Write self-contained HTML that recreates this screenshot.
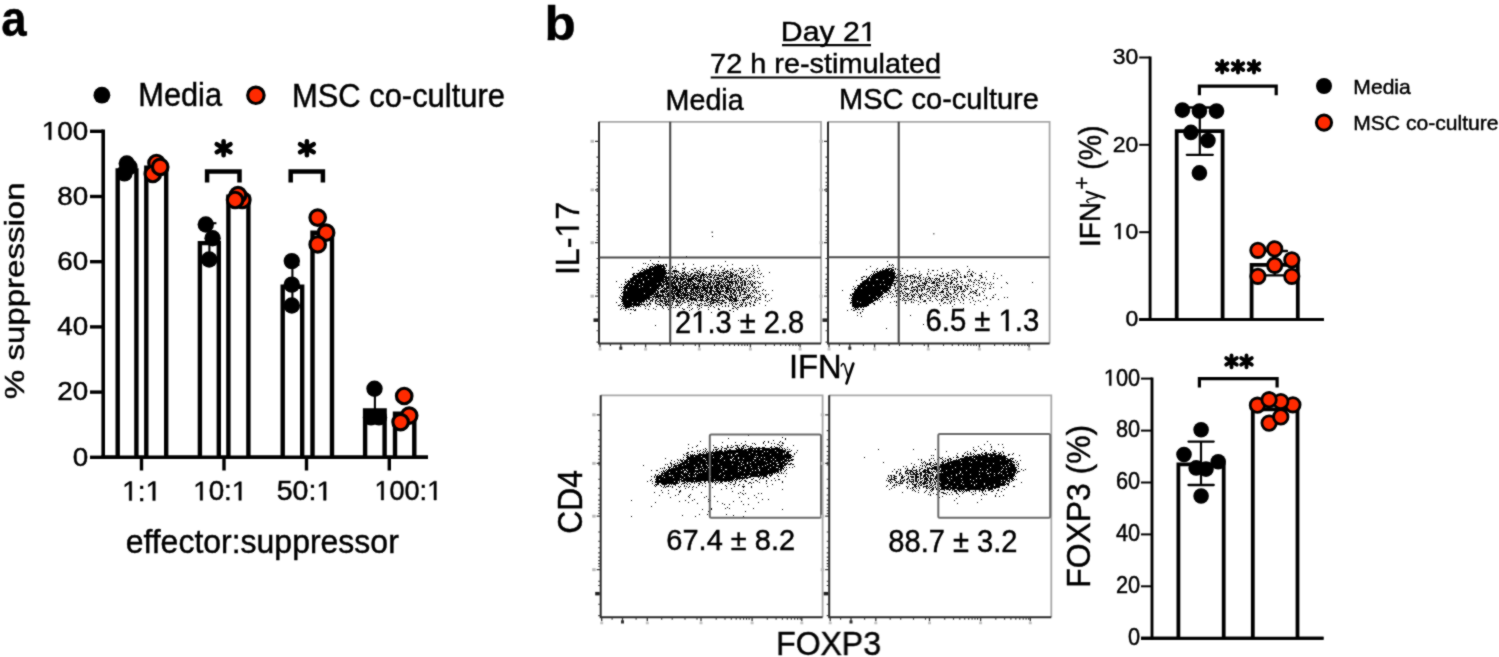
<!DOCTYPE html>
<html><head><meta charset="utf-8"><title>Figure</title><style>
html,body{margin:0;padding:0;background:#fff;overflow:hidden;}
svg{display:block;will-change:transform;}
text{font-family:"Liberation Sans",sans-serif;fill:#000;stroke:#000;stroke-width:0.45px;}
.o{fill-opacity:0;stroke-opacity:0;}
</style></head><body>
<svg width="1499" height="657" viewBox="0 0 1499 657">
<defs><filter id="soft" x="0" y="0" width="1499" height="657" filterUnits="userSpaceOnUse" color-interpolation-filters="sRGB"><feConvolveMatrix order="3" kernelMatrix="1 2 1 2 12 2 1 2 1" divisor="24" edgeMode="duplicate"/></filter></defs>
<rect width="1499" height="657" fill="#fff"/>
<g filter="url(#soft)">
<rect width="1499" height="657" fill="#fff"/>
<text transform="translate(1.33,35.70) scale(0.9118,1)" font-size="50.05" font-weight="bold">a</text>
<circle cx="101.9" cy="95.2" r="8.40" fill="#000"/>
<text transform="translate(138.26,106.20) scale(0.9287,1)" font-size="33.12">Media</text>
<circle cx="255.9" cy="95.3" r="8.20" fill="#ff2a00" stroke="#000" stroke-width="3.2"/>
<text transform="translate(291.95,106.50) scale(0.9459,1)" font-size="32.69">MSC co-culture</text>
<line x1="103.2" y1="129.6" x2="103.2" y2="459.0" stroke="#000" stroke-width="3.6" stroke-linecap="butt"/>
<line x1="101.4" y1="457.3" x2="428.0" y2="457.3" stroke="#000" stroke-width="3.6" stroke-linecap="butt"/>
<line x1="90.0" y1="457.3" x2="103.2" y2="457.3" stroke="#000" stroke-width="3.4" stroke-linecap="butt"/>
<text transform="translate(72.70,465.69) scale(1.0873,1)" font-size="25.58">0</text>
<line x1="90.0" y1="392.1" x2="103.2" y2="392.1" stroke="#000" stroke-width="3.4" stroke-linecap="butt"/>
<text transform="translate(57.27,400.49) scale(1.0873,1)" font-size="25.58">20</text>
<line x1="90.0" y1="326.9" x2="103.2" y2="326.9" stroke="#000" stroke-width="3.4" stroke-linecap="butt"/>
<text transform="translate(57.27,335.29) scale(1.0873,1)" font-size="25.58">40</text>
<line x1="90.0" y1="261.7" x2="103.2" y2="261.7" stroke="#000" stroke-width="3.4" stroke-linecap="butt"/>
<text transform="translate(57.27,270.09) scale(1.0873,1)" font-size="25.58">60</text>
<line x1="90.0" y1="196.5" x2="103.2" y2="196.5" stroke="#000" stroke-width="3.4" stroke-linecap="butt"/>
<text transform="translate(57.27,204.89) scale(1.0873,1)" font-size="25.58">80</text>
<line x1="90.0" y1="131.3" x2="103.2" y2="131.3" stroke="#000" stroke-width="3.4" stroke-linecap="butt"/>
<text transform="translate(41.76,139.69) scale(1.0873,1)" font-size="25.58"><tspan class="o">1</tspan>00</text>
<line x1="141.5" y1="457.3" x2="141.5" y2="470.5" stroke="#000" stroke-width="3.4" stroke-linecap="butt"/>
<line x1="224.0" y1="457.3" x2="224.0" y2="470.5" stroke="#000" stroke-width="3.4" stroke-linecap="butt"/>
<line x1="306.5" y1="457.3" x2="306.5" y2="470.5" stroke="#000" stroke-width="3.4" stroke-linecap="butt"/>
<line x1="389.3" y1="457.3" x2="389.3" y2="470.5" stroke="#000" stroke-width="3.4" stroke-linecap="butt"/>
<text transform="translate(122.12,500.60) scale(1.0165,1)" font-size="27.78"><tspan class="o">1</tspan>:<tspan class="o">1</tspan></text>
<text transform="translate(193.16,500.33) scale(1.0308,1)" font-size="27.00"><tspan class="o">1</tspan>0:<tspan class="o">1</tspan></text>
<text transform="translate(276.76,500.33) scale(1.0565,1)" font-size="27.00">50:<tspan class="o">1</tspan></text>
<text transform="translate(374.43,500.03) scale(0.9880,1)" font-size="27.42"><tspan class="o">1</tspan>00:<tspan class="o">1</tspan></text>
<text transform="translate(125.64,553.10) scale(0.9796,1)" font-size="32.66">effector:suppressor</text>
<text transform="translate(23.53,399.16) rotate(-90) scale(1.2085,1)" font-size="27.35">% suppression</text>
<path d="M117.7 457.3V170.4H136.4V457.3" fill="#fff" stroke="#000" stroke-width="4.4" stroke-linejoin="miter"/>
<circle cx="126.8" cy="163.5" r="8.20" fill="#000"/>
<circle cx="129.5" cy="167.0" r="8.20" fill="#000"/>
<circle cx="124.4" cy="173.4" r="8.20" fill="#000"/>
<path d="M146.3 457.3V167.8H166.2V457.3" fill="#fff" stroke="#000" stroke-width="4.4" stroke-linejoin="miter"/>
<circle cx="156.5" cy="163.0" r="7.75" fill="#ff2a00" stroke="#000" stroke-width="3.2"/>
<circle cx="152.8" cy="174.0" r="7.75" fill="#ff2a00" stroke="#000" stroke-width="3.2"/>
<circle cx="160.2" cy="166.9" r="7.75" fill="#ff2a00" stroke="#000" stroke-width="3.2"/>
<path d="M199.9 457.3V243.1H218.8V457.3" fill="#fff" stroke="#000" stroke-width="4.4" stroke-linejoin="miter"/>
<line x1="209.4" y1="223.2" x2="209.4" y2="258.4" stroke="#000" stroke-width="2.1" stroke-linecap="butt"/>
<line x1="202.4" y1="223.2" x2="216.4" y2="223.2" stroke="#000" stroke-width="2.1" stroke-linecap="butt"/>
<line x1="202.4" y1="258.4" x2="216.4" y2="258.4" stroke="#000" stroke-width="2.1" stroke-linecap="butt"/>
<circle cx="205.8" cy="224.5" r="8.20" fill="#000"/>
<circle cx="212.6" cy="238.2" r="8.20" fill="#000"/>
<circle cx="209.2" cy="259.5" r="8.20" fill="#000"/>
<path d="M228.4 457.3V196.8H248.4V457.3" fill="#fff" stroke="#000" stroke-width="4.4" stroke-linejoin="miter"/>
<circle cx="242.3" cy="200.0" r="7.75" fill="#ff2a00" stroke="#000" stroke-width="3.2"/>
<circle cx="238.0" cy="195.2" r="7.75" fill="#ff2a00" stroke="#000" stroke-width="3.2"/>
<circle cx="235.1" cy="200.0" r="7.75" fill="#ff2a00" stroke="#000" stroke-width="3.2"/>
<path d="M282.7 457.3V286.8H302.2V457.3" fill="#fff" stroke="#000" stroke-width="4.4" stroke-linejoin="miter"/>
<line x1="292.4" y1="265.0" x2="292.4" y2="307.3" stroke="#000" stroke-width="2.1" stroke-linecap="butt"/>
<line x1="285.4" y1="265.0" x2="299.4" y2="265.0" stroke="#000" stroke-width="2.1" stroke-linecap="butt"/>
<line x1="285.4" y1="307.3" x2="299.4" y2="307.3" stroke="#000" stroke-width="2.1" stroke-linecap="butt"/>
<circle cx="291.8" cy="261.1" r="8.20" fill="#000"/>
<circle cx="291.8" cy="284.6" r="8.20" fill="#000"/>
<circle cx="291.8" cy="305.5" r="8.20" fill="#000"/>
<path d="M312.5 457.3V232.7H332.0V457.3" fill="#fff" stroke="#000" stroke-width="4.4" stroke-linejoin="miter"/>
<circle cx="326.1" cy="232.7" r="7.75" fill="#ff2a00" stroke="#000" stroke-width="3.2"/>
<circle cx="317.7" cy="217.6" r="7.75" fill="#ff2a00" stroke="#000" stroke-width="3.2"/>
<circle cx="317.7" cy="244.4" r="7.75" fill="#ff2a00" stroke="#000" stroke-width="3.2"/>
<path d="M365.1 457.3V410.4H384.6V457.3" fill="#fff" stroke="#000" stroke-width="4.4" stroke-linejoin="miter"/>
<line x1="374.9" y1="388.8" x2="374.9" y2="418.2" stroke="#000" stroke-width="2.1" stroke-linecap="butt"/>
<line x1="368.4" y1="388.8" x2="381.4" y2="388.8" stroke="#000" stroke-width="2.1" stroke-linecap="butt"/>
<line x1="368.4" y1="418.2" x2="381.4" y2="418.2" stroke="#000" stroke-width="2.1" stroke-linecap="butt"/>
<circle cx="374.5" cy="388.8" r="8.20" fill="#000"/>
<circle cx="371.0" cy="417.4" r="8.20" fill="#000"/>
<circle cx="379.0" cy="417.4" r="8.20" fill="#000"/>
<path d="M395.0 457.3V413.6H414.3V457.3" fill="#fff" stroke="#000" stroke-width="4.4" stroke-linejoin="miter"/>
<circle cx="409.2" cy="415.6" r="7.75" fill="#ff2a00" stroke="#000" stroke-width="3.2"/>
<circle cx="404.2" cy="396.0" r="7.75" fill="#ff2a00" stroke="#000" stroke-width="3.2"/>
<circle cx="400.6" cy="422.1" r="7.75" fill="#ff2a00" stroke="#000" stroke-width="3.2"/>
<line x1="101.4" y1="457.3" x2="428.0" y2="457.3" stroke="#000" stroke-width="3.6" stroke-linecap="butt"/>
<path d="M207.1 182.6V171.6H239.5V182.6" fill="none" stroke="#000" stroke-width="4.5"/>
<path d="M223.60 141.20L223.60 155.20M216.76 144.25L230.44 152.15M216.76 152.15L230.44 144.25" stroke="#000" stroke-width="4.6" stroke-linecap="round" fill="none"/>
<path d="M290.7 182.6V171.6H322.9V182.6" fill="none" stroke="#000" stroke-width="4.5"/>
<path d="M306.90 141.20L306.90 155.20M300.06 144.25L313.74 152.15M300.06 152.15L313.74 144.25" stroke="#000" stroke-width="4.6" stroke-linecap="round" fill="none"/>
<text transform="translate(544.38,39.81) scale(1.0518,1)" font-size="48.57" font-weight="bold">b</text>
<text transform="translate(780.80,41.00) scale(1.1072,1)" font-size="27.31">Day 2<tspan class="o">1</tspan></text>
<line x1="782.0" y1="45.2" x2="871.0" y2="45.2" stroke="#000" stroke-width="2.2" stroke-linecap="butt"/>
<text transform="translate(710.08,73.00) scale(1.0311,1)" font-size="28.02">72 h re-stimulated</text>
<line x1="710.7" y1="77.5" x2="940.4" y2="77.5" stroke="#000" stroke-width="2.2" stroke-linecap="butt"/>
<text transform="translate(665.53,109.80) scale(0.9615,1)" font-size="29.86">Media</text>
<text transform="translate(839.01,109.40) scale(1.0100,1)" font-size="28.73">MSC co-culture</text>
<path d="M712 236h1M659 256h1M686 256h1M745 257h1M650 260h1M658 261h1M725 261h1M643 263h1M645 263h1M652 263h1M683 263h1M648 264h1M653 264h2M656 264h3M660 264h1M663 264h1M665 264h2M678 264h1M683 264h1M693 264h1M732 264h1M655 265h1M657 265h7M666 265h1M713 265h1M718 265h1M727 265h1M752 265h1M757 265h1M647 266h1M650 266h3M654 266h11M666 266h1M672 266h1M675 266h1M711 266h1M713 266h1M721 266h1M632 267h1M649 267h2M652 267h10M663 267h2M672 267h1M685 267h1M700 267h1M706 267h1M720 267h1M642 268h1M646 268h1M649 268h17M669 268h1M671 268h1M675 268h1M682 268h3M694 268h2M705 268h1M724 268h1M732 268h1M739 268h2M746 268h1M749 268h1M753 268h1M758 268h1M643 269h2M646 269h19M684 269h1M691 269h2M700 269h1M703 269h1M711 269h1M724 269h1M730 269h1M732 269h1M741 269h2M753 269h1M638 270h1M641 270h2M644 270h23M668 270h2M673 270h4M682 270h1M693 270h1M696 270h1M698 270h1M711 270h3M715 270h1M718 270h1M722 270h2M727 270h1M734 270h1M736 270h1M738 270h1M747 270h1M754 270h1M759 270h1M640 271h1M643 271h9M653 271h13M669 271h1M672 271h7M684 271h1M689 271h1M697 271h1M699 271h2M703 271h1M711 271h1M725 271h4M730 271h1M735 271h1M741 271h3M746 271h1M751 271h1M753 271h1M757 271h1M639 272h28M668 272h1M670 272h1M674 272h1M676 272h1M678 272h1M682 272h3M687 272h1M694 272h4M700 272h1M702 272h1M706 272h1M711 272h1M714 272h2M719 272h1M721 272h4M726 272h1M730 272h2M733 272h1M740 272h1M742 272h2M745 272h1M754 272h1M769 272h1M633 273h2M636 273h37M674 273h1M679 273h2M682 273h2M685 273h1M688 273h1M691 273h2M697 273h3M702 273h2M709 273h2M716 273h1M719 273h1M723 273h3M727 273h2M730 273h3M737 273h1M740 273h1M750 273h1M753 273h1M758 273h1M761 273h1M632 274h2M637 274h29M672 274h1M675 274h1M677 274h1M681 274h1M684 274h3M690 274h2M694 274h2M699 274h1M701 274h6M708 274h4M713 274h1M715 274h1M718 274h1M721 274h1M723 274h1M729 274h2M732 274h2M735 274h2M749 274h1M751 274h1M760 274h1M633 275h13M647 275h18M666 275h1M674 275h3M678 275h1M681 275h3M685 275h4M690 275h1M693 275h6M700 275h5M706 275h1M709 275h1M712 275h1M714 275h7M722 275h2M726 275h1M728 275h1M730 275h3M734 275h3M738 275h1M742 275h1M744 275h1M746 275h1M748 275h1M753 275h1M633 276h19M653 276h14M668 276h5M674 276h2M677 276h1M679 276h2M682 276h3M686 276h1M688 276h3M692 276h3M697 276h2M700 276h2M703 276h1M705 276h1M707 276h2M710 276h2M714 276h1M719 276h3M723 276h1M725 276h3M730 276h3M734 276h1M736 276h1M738 276h2M741 276h1M747 276h1M749 276h1M752 276h1M754 276h1M763 276h1M632 277h46M680 277h2M683 277h1M686 277h1M688 277h1M691 277h3M695 277h2M698 277h4M703 277h2M706 277h2M709 277h3M713 277h2M716 277h3M724 277h1M726 277h7M736 277h1M739 277h2M743 277h1M748 277h3M757 277h1M759 277h1M630 278h7M638 278h3M642 278h22M665 278h6M673 278h2M676 278h11M688 278h10M700 278h2M703 278h1M707 278h1M713 278h1M717 278h6M724 278h3M729 278h1M734 278h2M738 278h1M740 278h3M745 278h2M754 278h1M625 279h1M630 279h18M649 279h18M668 279h3M672 279h2M675 279h4M680 279h5M686 279h8M695 279h2M698 279h3M703 279h2M708 279h3M714 279h5M722 279h6M729 279h1M731 279h2M734 279h1M737 279h1M740 279h2M746 279h1M628 280h1M630 280h34M665 280h8M674 280h1M676 280h2M680 280h3M685 280h1M687 280h5M694 280h1M696 280h10M710 280h2M713 280h1M715 280h1M719 280h1M721 280h2M725 280h1M727 280h2M731 280h1M735 280h1M737 280h2M740 280h2M743 280h2M748 280h1M751 280h1M616 281h1M625 281h1M627 281h7M635 281h8M644 281h24M670 281h2M673 281h2M676 281h3M680 281h1M683 281h3M687 281h6M695 281h1M697 281h5M703 281h6M710 281h2M713 281h1M715 281h7M724 281h1M727 281h10M738 281h1M742 281h1M744 281h2M747 281h1M749 281h2M752 281h1M755 281h1M757 281h1M625 282h2M628 282h15M644 282h17M662 282h3M666 282h11M678 282h3M682 282h5M688 282h1M690 282h1M692 282h2M699 282h2M702 282h1M705 282h1M708 282h3M712 282h1M714 282h1M716 282h4M721 282h3M725 282h8M735 282h2M738 282h1M740 282h3M744 282h2M750 282h1M753 282h2M758 282h1M762 282h1M627 283h3M631 283h26M658 283h4M663 283h1M665 283h11M678 283h3M682 283h2M686 283h3M690 283h2M693 283h3M697 283h3M702 283h3M706 283h1M708 283h3M712 283h3M716 283h1M718 283h3M723 283h1M725 283h1M729 283h1M731 283h3M735 283h3M740 283h1M742 283h1M744 283h2M748 283h1M750 283h1M752 283h1M754 283h2M759 283h2M621 284h1M624 284h1M626 284h7M634 284h5M640 284h22M663 284h10M674 284h2M678 284h1M680 284h3M684 284h7M692 284h5M698 284h1M700 284h1M702 284h2M705 284h1M707 284h4M713 284h1M716 284h4M721 284h1M723 284h2M726 284h2M729 284h2M732 284h1M735 284h1M737 284h1M741 284h2M744 284h2M747 284h1M749 284h1M751 284h2M625 285h39M666 285h1M668 285h2M671 285h3M675 285h2M678 285h3M682 285h5M688 285h2M691 285h4M697 285h2M701 285h1M703 285h6M710 285h1M712 285h1M714 285h5M720 285h3M724 285h2M727 285h4M732 285h1M735 285h1M737 285h1M739 285h1M741 285h2M744 285h2M751 285h2M624 286h4M629 286h13M643 286h17M661 286h3M666 286h12M679 286h5M686 286h6M693 286h8M702 286h3M707 286h2M710 286h3M714 286h3M718 286h1M720 286h6M727 286h2M730 286h2M735 286h1M738 286h2M741 286h1M747 286h1M752 286h1M754 286h1M758 286h1M760 286h1M619 287h1M621 287h1M623 287h16M640 287h10M651 287h8M661 287h2M664 287h1M666 287h5M672 287h6M679 287h4M684 287h4M689 287h1M691 287h1M693 287h6M700 287h13M714 287h5M720 287h3M725 287h4M730 287h1M733 287h2M736 287h6M743 287h1M746 287h1M748 287h1M750 287h1M753 287h2M756 287h1M758 287h1M624 288h37M663 288h15M679 288h2M682 288h19M702 288h6M709 288h4M714 288h1M716 288h4M721 288h3M725 288h8M736 288h1M738 288h1M741 288h1M743 288h2M746 288h1M749 288h1M755 288h1M623 289h3M627 289h30M658 289h1M662 289h1M664 289h3M672 289h2M675 289h8M684 289h3M691 289h3M695 289h3M699 289h1M701 289h1M703 289h3M707 289h1M710 289h2M715 289h3M719 289h1M721 289h1M726 289h4M732 289h3M736 289h1M738 289h2M741 289h3M745 289h1M748 289h1M754 289h1M763 289h1M621 290h1M624 290h2M627 290h31M660 290h5M666 290h4M671 290h2M674 290h7M682 290h1M684 290h4M690 290h4M695 290h1M697 290h3M701 290h7M709 290h5M716 290h3M720 290h1M722 290h2M725 290h3M729 290h3M733 290h3M737 290h3M741 290h2M746 290h1M748 290h2M752 290h2M755 290h2M762 290h1M765 290h1M772 290h1M623 291h33M657 291h2M660 291h8M670 291h6M677 291h5M683 291h1M685 291h2M690 291h2M693 291h1M695 291h3M699 291h1M701 291h2M705 291h3M709 291h3M713 291h11M725 291h4M730 291h2M734 291h2M739 291h1M741 291h1M743 291h3M748 291h1M753 291h1M756 291h1M758 291h2M622 292h34M657 292h2M660 292h5M666 292h1M668 292h5M674 292h1M676 292h5M682 292h2M685 292h5M691 292h4M696 292h5M704 292h1M706 292h6M714 292h1M717 292h4M724 292h1M726 292h3M730 292h2M733 292h2M736 292h1M739 292h2M744 292h3M751 292h1M754 292h1M756 292h1M621 293h1M623 293h21M645 293h9M655 293h4M662 293h1M665 293h1M667 293h12M680 293h6M687 293h1M689 293h3M693 293h3M697 293h1M700 293h4M705 293h2M708 293h1M710 293h2M714 293h3M718 293h3M725 293h2M730 293h1M732 293h2M736 293h1M739 293h2M744 293h1M750 293h1M752 293h1M757 293h1M762 293h1M623 294h35M659 294h2M662 294h2M665 294h6M672 294h2M675 294h5M681 294h1M683 294h6M690 294h4M695 294h2M698 294h3M702 294h1M704 294h3M709 294h9M719 294h5M727 294h2M730 294h2M733 294h3M740 294h1M742 294h4M747 294h1M749 294h1M759 294h1M763 294h1M766 294h1M768 294h1M620 295h1M623 295h29M654 295h1M656 295h8M667 295h3M671 295h1M673 295h2M676 295h15M693 295h5M699 295h5M706 295h2M709 295h1M712 295h3M716 295h1M718 295h2M723 295h3M729 295h1M731 295h1M734 295h2M737 295h1M739 295h2M747 295h4M754 295h1M760 295h1M765 295h1M621 296h29M652 296h23M676 296h4M681 296h1M684 296h2M687 296h1M690 296h3M696 296h1M698 296h1M700 296h4M705 296h1M707 296h2M712 296h1M714 296h1M716 296h2M719 296h1M721 296h2M724 296h3M729 296h4M735 296h1M737 296h1M739 296h1M746 296h1M748 296h1M750 296h1M752 296h2M765 296h1M619 297h1M622 297h30M653 297h1M655 297h4M660 297h1M663 297h1M665 297h1M667 297h1M669 297h2M672 297h3M678 297h7M686 297h3M690 297h2M693 297h1M695 297h1M697 297h7M706 297h2M709 297h1M711 297h3M715 297h2M719 297h2M722 297h1M724 297h4M729 297h4M735 297h2M741 297h1M743 297h7M751 297h1M754 297h1M756 297h1M759 297h2M765 297h1M620 298h1M622 298h28M652 298h1M655 298h1M658 298h3M662 298h4M668 298h8M677 298h2M680 298h4M685 298h3M689 298h7M697 298h1M700 298h1M702 298h1M705 298h1M707 298h2M710 298h3M716 298h4M725 298h1M727 298h2M730 298h1M732 298h5M738 298h1M746 298h1M748 298h1M751 298h1M756 298h1M758 298h1M771 298h1M621 299h6M628 299h19M648 299h2M652 299h2M656 299h2M660 299h1M664 299h3M668 299h1M673 299h2M676 299h1M681 299h1M683 299h1M686 299h1M689 299h8M700 299h3M706 299h4M711 299h5M718 299h1M722 299h1M726 299h1M728 299h4M733 299h4M742 299h4M747 299h1M755 299h1M759 299h2M622 300h23M646 300h1M650 300h3M655 300h2M659 300h4M664 300h1M666 300h1M668 300h2M671 300h3M676 300h2M679 300h2M683 300h2M687 300h2M691 300h2M694 300h3M698 300h6M705 300h3M711 300h14M729 300h4M734 300h5M740 300h1M742 300h3M750 300h1M755 300h1M757 300h1M765 300h1M769 300h1M621 301h24M646 301h2M650 301h1M652 301h1M655 301h1M657 301h2M660 301h3M664 301h7M673 301h1M675 301h4M680 301h1M682 301h2M687 301h3M696 301h1M701 301h1M704 301h1M706 301h1M709 301h3M713 301h1M716 301h2M722 301h2M729 301h1M731 301h1M733 301h4M743 301h1M751 301h1M754 301h1M767 301h1M616 302h1M623 302h9M633 302h4M638 302h4M643 302h1M649 302h1M655 302h1M659 302h1M662 302h1M665 302h2M668 302h1M672 302h1M676 302h1M678 302h3M684 302h2M691 302h1M693 302h1M697 302h1M707 302h2M710 302h1M712 302h4M717 302h3M721 302h1M724 302h3M732 302h1M739 302h1M741 302h1M743 302h1M745 302h1M747 302h1M749 302h1M754 302h2M622 303h18M641 303h1M646 303h1M649 303h2M655 303h2M660 303h1M663 303h3M667 303h1M672 303h1M677 303h1M679 303h1M682 303h1M688 303h1M691 303h1M693 303h1M700 303h2M704 303h2M710 303h4M720 303h3M725 303h1M729 303h1M731 303h1M733 303h1M735 303h1M737 303h1M742 303h1M745 303h1M749 303h2M759 303h1M620 304h1M623 304h22M647 304h2M650 304h1M657 304h4M665 304h4M672 304h1M677 304h1M681 304h1M690 304h1M695 304h1M697 304h1M699 304h1M702 304h1M708 304h1M710 304h1M716 304h1M718 304h1M721 304h1M732 304h1M735 304h2M740 304h3M746 304h1M750 304h1M753 304h1M618 305h2M622 305h1M624 305h8M633 305h7M644 305h1M647 305h1M660 305h2M663 305h1M665 305h2M668 305h2M671 305h1M675 305h4M680 305h1M688 305h2M691 305h1M697 305h3M701 305h1M704 305h4M709 305h1M711 305h1M716 305h1M719 305h1M725 305h1M728 305h1M732 305h1M739 305h1M741 305h1M745 305h2M753 305h2M765 305h1M621 306h1M623 306h11M636 306h1M638 306h1M640 306h1M645 306h1M649 306h1M656 306h1M662 306h1M699 306h1M710 306h1M713 306h1M722 306h1M725 306h1M728 306h1M733 306h2M740 306h1M742 306h1M745 306h1M750 306h1M625 307h5M633 307h1M662 307h1M667 307h1M671 307h1M673 307h1M675 307h1M679 307h1M687 307h1M689 307h1M697 307h1M701 307h1M708 307h1M714 307h1M735 307h1M737 307h2M621 308h1M623 308h1M625 308h2M645 308h1M653 308h1M663 308h1M670 308h1M682 308h1M692 308h1M699 308h1M718 308h1M732 308h2M736 308h1M620 309h1M628 309h1M630 309h2M633 309h1M635 309h1M648 309h1M655 309h1M668 309h1M683 309h2M691 309h1M698 309h1M708 309h1M718 309h2M737 309h1M625 310h1M634 310h2M689 310h1M729 310h2M684 311h1M733 311h1M711 312h1M630 313h1M747 314h1M738 320h1M655 325h1" stroke="#000" stroke-width="1" transform="translate(0,0.5)" shape-rendering="crispEdges"/>
<path d="M599 121.8H821V343.6" fill="none" stroke="#a8a8a8" stroke-width="1.8"/>
<path d="M599 121.8V343.6H821" fill="none" stroke="#2a2a2a" stroke-width="2.0"/>
<path d="M595.0 141.3h4M595.0 189.9h4M595.0 242.7h4M595.0 296.2h4M600.0 343.6v4M620.8 343.6v4M645.6 343.6v4M699.3 343.6v4M750.4 343.6v4M800.1 343.6v4" stroke="#333" stroke-width="1.3" fill="none"/>
<path d="M596.5 157.1h2.5M596.5 166.3h2.5M596.5 172.9h2.5M596.5 178.0h2.5M596.5 182.2h2.5M596.5 185.7h2.5M596.5 188.7h2.5M596.5 191.4h2.5M596.5 205.7h2.5M596.5 214.9h2.5M596.5 221.5h2.5M596.5 226.6h2.5M596.5 230.8h2.5M596.5 234.3h2.5M596.5 237.3h2.5M596.5 240.0h2.5M596.5 258.5h2.5M596.5 267.7h2.5M596.5 274.3h2.5M596.5 279.4h2.5M596.5 283.6h2.5M596.5 287.1h2.5M596.5 290.1h2.5M596.5 292.8h2.5M596.5 312.0h2.5M596.5 307.8h2.5M596.5 320.5h2.5M596.5 330.8h2.5M596.5 342.1h2.5M714.5 343.6v2.5M723.3 343.6v2.5M729.6 343.6v2.5M734.5 343.6v2.5M738.5 343.6v2.5M741.9 343.6v2.5M744.8 343.6v2.5M747.4 343.6v2.5M765.6 343.6v2.5M774.4 343.6v2.5M780.7 343.6v2.5M785.6 343.6v2.5M789.6 343.6v2.5M793.0 343.6v2.5M795.9 343.6v2.5M798.5 343.6v2.5M610.4 343.6v2.5M634.4 343.6v2.5M660.0 343.6v2.5M670.5 343.6v2.5M683.3 343.6v2.5M695.3 343.6v2.5" stroke="#3a3a3a" stroke-width="1.1" fill="none"/>
<rect x="590.5" y="139.8" width="3.5" height="3" fill="#bbb"/><rect x="590.5" y="188.4" width="3.5" height="3" fill="#bbb"/><rect x="590.5" y="241.2" width="3.5" height="3" fill="#bbb"/><rect x="590.5" y="294.7" width="3.5" height="3" fill="#bbb"/><rect x="593.5" y="318.4" width="4.5" height="3.5" fill="#222"/><rect x="619.3" y="346.6" width="3" height="3.2" fill="#333"/><rect x="598.5" y="348.1" width="3" height="2.5" fill="#c4c4c4"/><rect x="644.1" y="348.1" width="3" height="2.5" fill="#c4c4c4"/><rect x="697.8" y="348.1" width="3" height="2.5" fill="#c4c4c4"/><rect x="748.9" y="348.1" width="3" height="2.5" fill="#c4c4c4"/><rect x="798.6" y="348.1" width="3" height="2.5" fill="#c4c4c4"/>
<path d="M670.2 121.8V343.6M599 257.5H821" stroke="#4a4a4a" stroke-width="2.1" fill="none"/>
<rect x="711.5" y="231.5" width="1.5" height="1.5" fill="#555"/>
<path d="M887 261h1M889 264h1M892 264h1M889 265h1M891 265h1M893 265h1M870 266h1M887 266h1M967 266h1M892 267h2M877 268h1M883 268h1M886 268h1M888 268h4M895 268h1M902 268h1M915 268h1M941 268h1M866 269h1M876 269h1M882 269h1M885 269h5M891 269h3M895 269h1M897 269h1M928 269h1M956 269h1M969 269h1M880 270h1M882 270h7M890 270h4M899 270h1M907 270h1M932 270h2M937 270h1M952 270h3M957 270h1M872 271h1M874 271h1M876 271h2M879 271h14M894 271h1M900 271h1M919 271h1M928 271h1M958 271h1M968 271h2M972 271h1M986 271h1M874 272h1M877 272h18M942 272h1M948 272h1M954 272h1M956 272h1M959 272h1M967 272h1M973 272h1M873 273h1M875 273h21M900 273h1M904 273h1M919 273h1M927 273h1M930 273h1M942 273h1M946 273h1M952 273h1M957 273h1M971 273h1M975 273h1M981 273h1M994 273h1M871 274h1M873 274h22M897 274h1M899 274h1M913 274h1M915 274h1M921 274h1M927 274h1M937 274h1M947 274h1M957 274h1M960 274h1M967 274h1M970 274h2M870 275h1M872 275h23M896 275h1M898 275h1M900 275h3M906 275h2M910 275h3M919 275h2M934 275h1M936 275h1M939 275h2M943 275h1M947 275h3M951 275h1M957 275h1M964 275h1M971 275h2M979 275h3M1001 275h1M863 276h2M866 276h1M869 276h1M871 276h25M899 276h1M905 276h1M907 276h4M912 276h3M916 276h1M919 276h1M928 276h1M940 276h4M946 276h2M960 276h1M964 276h2M967 276h1M969 276h1M972 276h1M981 276h1M993 276h1M861 277h2M866 277h1M868 277h2M871 277h18M890 277h9M902 277h2M905 277h2M910 277h1M914 277h2M917 277h2M920 277h1M923 277h1M926 277h1M929 277h1M951 277h2M954 277h1M957 277h1M960 277h2M964 277h2M981 277h2M985 277h1M867 278h28M896 278h1M901 278h2M910 278h1M912 278h1M914 278h1M917 278h2M920 278h1M925 278h1M928 278h3M932 278h1M935 278h3M939 278h1M944 278h1M947 278h2M950 278h1M954 278h3M980 278h1M993 278h1M997 278h1M861 279h2M866 279h3M870 279h6M878 279h16M899 279h1M901 279h1M903 279h1M905 279h1M907 279h1M919 279h1M923 279h1M925 279h1M927 279h1M930 279h1M934 279h1M936 279h1M938 279h2M943 279h2M950 279h1M953 279h1M956 279h1M968 279h1M970 279h1M975 279h1M986 279h1M856 280h1M864 280h5M870 280h13M884 280h15M907 280h1M910 280h1M914 280h2M920 280h2M925 280h1M929 280h1M931 280h1M935 280h1M937 280h1M939 280h1M942 280h2M951 280h2M954 280h1M961 280h1M968 280h1M970 280h1M974 280h1M976 280h1M978 280h2M862 281h32M897 281h1M899 281h6M906 281h2M911 281h1M913 281h2M916 281h1M918 281h1M920 281h1M925 281h3M931 281h1M933 281h2M939 281h3M943 281h1M945 281h2M951 281h1M956 281h2M960 281h1M969 281h1M971 281h1M862 282h31M896 282h1M905 282h1M911 282h2M914 282h1M916 282h1M922 282h1M924 282h1M926 282h1M928 282h2M932 282h3M936 282h3M947 282h2M950 282h3M956 282h1M961 282h2M966 282h1M973 282h2M978 282h1M981 282h2M984 282h1M990 282h1M1006 282h1M1032 282h1M860 283h36M900 283h1M904 283h1M906 283h1M910 283h1M912 283h1M918 283h2M922 283h5M931 283h4M936 283h1M939 283h1M941 283h1M943 283h1M945 283h1M948 283h1M950 283h2M979 283h1M984 283h1M987 283h1M993 283h1M1007 283h1M860 284h20M881 284h3M885 284h7M894 284h2M898 284h1M900 284h2M904 284h1M910 284h1M912 284h1M917 284h1M924 284h2M936 284h2M946 284h2M950 284h1M953 284h2M957 284h2M962 284h1M968 284h1M973 284h1M976 284h1M983 284h1M989 284h1M991 284h1M857 285h9M867 285h6M874 285h19M894 285h1M901 285h1M903 285h1M909 285h1M918 285h6M925 285h1M927 285h1M934 285h1M936 285h4M941 285h1M944 285h2M956 285h1M964 285h2M967 285h1M970 285h1M978 285h1M985 285h1M853 286h1M858 286h30M889 286h2M894 286h1M899 286h2M902 286h1M904 286h3M912 286h1M915 286h2M918 286h2M924 286h1M928 286h2M932 286h1M935 286h1M937 286h1M945 286h3M950 286h1M952 286h1M954 286h1M956 286h1M958 286h4M965 286h1M967 286h2M973 286h1M990 286h1M855 287h1M857 287h34M895 287h1M897 287h1M900 287h1M911 287h4M916 287h2M920 287h1M922 287h3M930 287h2M933 287h2M938 287h2M948 287h1M950 287h1M952 287h1M954 287h2M957 287h1M960 287h2M965 287h1M979 287h1M981 287h1M993 287h1M1001 287h1M854 288h1M857 288h4M862 288h29M895 288h1M901 288h1M904 288h5M911 288h1M917 288h1M921 288h1M924 288h1M927 288h3M935 288h1M937 288h1M939 288h1M942 288h1M944 288h4M957 288h2M960 288h2M966 288h2M970 288h1M983 288h1M985 288h1M989 288h2M852 289h1M854 289h35M893 289h1M897 289h1M903 289h1M905 289h2M908 289h1M913 289h3M917 289h1M919 289h1M921 289h2M924 289h1M926 289h2M929 289h1M932 289h1M935 289h1M943 289h1M947 289h1M950 289h1M953 289h2M957 289h1M960 289h2M964 289h1M967 289h1M971 289h1M977 289h1M842 290h1M855 290h26M882 290h8M895 290h3M901 290h1M910 290h3M914 290h1M916 290h2M919 290h1M921 290h2M929 290h1M932 290h5M938 290h1M942 290h1M946 290h2M954 290h3M963 290h1M965 290h1M975 290h2M984 290h1M854 291h33M889 291h1M891 291h1M895 291h1M899 291h3M904 291h1M912 291h2M916 291h2M921 291h1M927 291h2M931 291h1M941 291h3M948 291h1M954 291h1M959 291h1M961 291h4M970 291h1M972 291h2M976 291h1M982 291h1M854 292h29M884 292h4M890 292h1M899 292h1M902 292h1M905 292h1M910 292h1M912 292h1M917 292h1M926 292h1M930 292h1M932 292h1M934 292h2M939 292h5M946 292h1M948 292h1M954 292h2M958 292h1M970 292h2M974 292h2M983 292h1M852 293h32M888 293h1M892 293h1M896 293h3M900 293h1M902 293h2M906 293h2M909 293h1M915 293h1M918 293h1M922 293h1M924 293h1M930 293h1M932 293h3M937 293h1M946 293h1M949 293h2M953 293h1M957 293h1M962 293h1M969 293h1M973 293h1M975 293h2M979 293h1M850 294h1M852 294h31M888 294h1M890 294h1M893 294h1M905 294h1M907 294h2M911 294h1M913 294h2M916 294h1M919 294h1M921 294h1M923 294h1M925 294h2M934 294h1M938 294h1M940 294h1M943 294h1M946 294h2M950 294h2M955 294h2M961 294h1M963 294h1M968 294h1M979 294h1M995 294h1M850 295h2M853 295h16M870 295h12M886 295h1M896 295h1M898 295h1M900 295h1M903 295h2M907 295h1M911 295h2M914 295h1M918 295h1M920 295h2M924 295h1M928 295h1M932 295h1M936 295h1M944 295h1M947 295h2M957 295h1M964 295h1M976 295h2M979 295h1M984 295h1M993 295h1M852 296h24M877 296h4M882 296h1M884 296h1M892 296h1M894 296h1M896 296h1M898 296h1M900 296h1M905 296h3M909 296h1M912 296h2M919 296h2M922 296h1M926 296h1M929 296h1M932 296h1M934 296h1M936 296h2M941 296h1M945 296h1M948 296h1M950 296h1M953 296h1M957 296h1M961 296h1M964 296h1M970 296h1M852 297h25M878 297h2M881 297h2M887 297h1M891 297h1M898 297h1M903 297h1M912 297h1M914 297h1M917 297h1M919 297h2M930 297h1M943 297h5M951 297h1M953 297h2M961 297h1M966 297h1M972 297h1M986 297h1M992 297h2M1004 297h1M1007 297h1M849 298h1M851 298h28M902 298h1M904 298h1M907 298h2M911 298h1M920 298h1M927 298h2M930 298h1M935 298h1M942 298h1M950 298h1M956 298h1M962 298h1M972 298h1M986 298h1M852 299h21M874 299h4M879 299h1M882 299h1M898 299h3M903 299h1M909 299h3M913 299h1M920 299h1M922 299h1M936 299h1M939 299h1M941 299h1M943 299h1M946 299h3M953 299h2M958 299h1M963 299h1M969 299h1M983 299h1M990 299h1M998 299h1M851 300h25M877 300h1M902 300h1M904 300h3M908 300h1M914 300h1M916 300h1M924 300h2M929 300h2M937 300h1M941 300h2M951 300h1M959 300h1M963 300h1M973 300h1M978 300h1M852 301h5M858 301h16M880 301h1M894 301h1M896 301h1M898 301h1M911 301h1M918 301h1M923 301h3M932 301h1M941 301h1M949 301h1M951 301h1M954 301h1M975 301h1M980 301h1M850 302h10M861 302h12M890 302h1M896 302h1M905 302h1M911 302h1M913 302h1M920 302h1M944 302h2M950 302h1M960 302h1M970 302h1M850 303h1M852 303h19M873 303h2M905 303h1M926 303h1M939 303h1M943 303h1M947 303h1M950 303h1M963 303h1M852 304h17M874 304h1M918 304h1M954 304h1M974 304h1M852 305h17M896 305h1M940 305h1M987 305h1M852 306h15M952 306h1M854 307h5M860 307h2M863 307h1M853 308h1M855 308h1M857 308h1M963 308h1M851 309h1M855 309h2M858 309h2M862 309h2M847 310h1M853 310h2M862 311h1M857 312h1M860 312h1M860 313h1M857 315h1M910 315h1M861 316h1M923 324h1M886 328h1" stroke="#000" stroke-width="1" transform="translate(0,0.5)" shape-rendering="crispEdges"/>
<path d="M828 121.8H1049.6V343.6" fill="none" stroke="#a8a8a8" stroke-width="1.8"/>
<path d="M828 121.8V343.6H1049.6" fill="none" stroke="#2a2a2a" stroke-width="2.0"/>
<path d="M824.0 141.3h4M824.0 189.9h4M824.0 242.7h4M824.0 296.2h4M829.0 343.6v4M849.8 343.6v4M874.6 343.6v4M928.3 343.6v4M979.4 343.6v4M1029.1 343.6v4" stroke="#333" stroke-width="1.3" fill="none"/>
<path d="M825.5 157.1h2.5M825.5 166.3h2.5M825.5 172.9h2.5M825.5 178.0h2.5M825.5 182.2h2.5M825.5 185.7h2.5M825.5 188.7h2.5M825.5 191.4h2.5M825.5 205.7h2.5M825.5 214.9h2.5M825.5 221.5h2.5M825.5 226.6h2.5M825.5 230.8h2.5M825.5 234.3h2.5M825.5 237.3h2.5M825.5 240.0h2.5M825.5 258.5h2.5M825.5 267.7h2.5M825.5 274.3h2.5M825.5 279.4h2.5M825.5 283.6h2.5M825.5 287.1h2.5M825.5 290.1h2.5M825.5 292.8h2.5M825.5 312.0h2.5M825.5 307.8h2.5M825.5 320.5h2.5M825.5 330.8h2.5M825.5 342.1h2.5M943.5 343.6v2.5M952.3 343.6v2.5M958.6 343.6v2.5M963.5 343.6v2.5M967.5 343.6v2.5M970.9 343.6v2.5M973.8 343.6v2.5M976.4 343.6v2.5M994.6 343.6v2.5M1003.4 343.6v2.5M1009.7 343.6v2.5M1014.6 343.6v2.5M1018.6 343.6v2.5M1022.0 343.6v2.5M1024.9 343.6v2.5M1027.5 343.6v2.5M839.4 343.6v2.5M863.4 343.6v2.5M889.0 343.6v2.5M899.5 343.6v2.5M912.3 343.6v2.5M924.3 343.6v2.5" stroke="#3a3a3a" stroke-width="1.1" fill="none"/>
<rect x="819.5" y="139.8" width="3.5" height="3" fill="#bbb"/><rect x="819.5" y="188.4" width="3.5" height="3" fill="#bbb"/><rect x="819.5" y="241.2" width="3.5" height="3" fill="#bbb"/><rect x="819.5" y="294.7" width="3.5" height="3" fill="#bbb"/><rect x="822.5" y="318.4" width="4.5" height="3.5" fill="#222"/><rect x="848.3" y="346.6" width="3" height="3.2" fill="#333"/><rect x="827.5" y="348.1" width="3" height="2.5" fill="#c4c4c4"/><rect x="873.1" y="348.1" width="3" height="2.5" fill="#c4c4c4"/><rect x="926.8" y="348.1" width="3" height="2.5" fill="#c4c4c4"/><rect x="977.9" y="348.1" width="3" height="2.5" fill="#c4c4c4"/><rect x="1027.6" y="348.1" width="3" height="2.5" fill="#c4c4c4"/>
<path d="M898.7 121.8V343.6M828 257.3H1049.6" stroke="#4a4a4a" stroke-width="2.1" fill="none"/>
<rect x="933" y="233" width="1.5" height="1.5" fill="#777"/>
<path d="M748 435h1M782 437h1M728 438h1M785 438h1M785 439h1M773 440h1M700 441h1M745 441h1M764 441h1M768 441h1M780 441h1M722 442h1M735 442h1M763 442h1M768 442h1M779 442h1M782 442h1M741 443h1M752 443h1M754 443h1M763 443h1M771 443h1M774 443h1M782 443h2M688 444h1M745 444h1M755 444h1M777 444h2M697 445h1M709 445h1M713 445h1M727 445h1M731 445h1M735 445h3M739 445h1M743 445h2M746 445h1M765 445h1M779 445h1M781 445h2M793 445h1M696 446h1M721 446h1M727 446h1M733 446h1M737 446h1M742 446h2M747 446h2M750 446h2M771 446h1M774 446h1M780 446h1M692 447h1M714 447h3M722 447h1M727 447h2M730 447h3M737 447h2M741 447h1M743 447h1M745 447h1M750 447h1M752 447h1M756 447h1M758 447h2M762 447h3M770 447h2M775 447h3M779 447h1M781 447h1M787 447h1M688 448h1M705 448h1M718 448h1M721 448h1M724 448h3M735 448h2M738 448h2M741 448h3M748 448h22M771 448h9M782 448h1M784 448h1M703 449h1M706 449h1M713 449h1M715 449h3M721 449h1M726 449h1M729 449h2M736 449h7M744 449h9M754 449h2M757 449h3M762 449h21M785 449h1M787 449h1M789 449h1M697 450h1M700 450h1M705 450h1M713 450h1M716 450h1M719 450h3M724 450h2M727 450h20M748 450h27M776 450h10M791 450h1M797 450h1M691 451h2M697 451h1M699 451h1M703 451h1M705 451h1M707 451h1M709 451h2M712 451h1M715 451h8M724 451h40M765 451h2M768 451h18M787 451h4M687 452h2M694 452h1M702 452h1M704 452h1M706 452h1M708 452h44M753 452h24M778 452h7M786 452h3M796 452h1M686 453h2M697 453h1M699 453h2M703 453h1M706 453h4M711 453h25M738 453h18M757 453h5M763 453h20M784 453h1M786 453h3M794 453h1M683 454h1M688 454h1M690 454h1M692 454h1M694 454h1M698 454h14M713 454h15M729 454h2M732 454h3M736 454h13M750 454h20M771 454h12M784 454h7M794 454h1M684 455h1M686 455h2M690 455h31M722 455h9M732 455h60M687 456h2M690 456h4M695 456h6M702 456h20M723 456h32M756 456h1M758 456h33M792 456h2M683 457h1M686 457h27M714 457h7M722 457h11M734 457h4M739 457h22M762 457h2M765 457h8M774 457h18M665 458h1M687 458h16M705 458h15M721 458h11M733 458h5M739 458h4M744 458h10M756 458h29M786 458h5M677 459h1M680 459h1M683 459h1M686 459h19M706 459h24M732 459h27M760 459h11M772 459h3M776 459h11M788 459h1M791 459h3M671 460h1M678 460h1M680 460h3M684 460h4M689 460h35M725 460h6M732 460h2M735 460h18M754 460h10M765 460h18M784 460h9M674 461h1M681 461h2M684 461h22M707 461h32M740 461h2M743 461h23M767 461h6M774 461h7M782 461h5M788 461h2M670 462h1M677 462h1M679 462h1M682 462h6M689 462h9M699 462h48M748 462h2M751 462h4M756 462h20M778 462h7M787 462h1M670 463h2M675 463h1M677 463h1M680 463h29M710 463h8M719 463h22M742 463h5M748 463h22M771 463h17M790 463h2M665 464h1M667 464h1M671 464h1M673 464h2M678 464h7M686 464h15M702 464h4M707 464h25M733 464h10M744 464h23M768 464h9M779 464h4M784 464h3M788 464h3M792 464h2M643 465h1M671 465h1M674 465h8M683 465h11M695 465h6M702 465h5M708 465h4M713 465h28M742 465h8M751 465h14M766 465h7M774 465h12M668 466h1M671 466h1M673 466h4M678 466h43M722 466h16M739 466h19M759 466h3M763 466h21M794 466h1M664 467h1M668 467h3M673 467h1M675 467h21M697 467h5M703 467h5M709 467h36M746 467h5M752 467h18M771 467h5M778 467h5M784 467h1M786 467h1M789 467h1M792 467h1M660 468h1M662 468h1M664 468h1M669 468h1M671 468h29M701 468h20M722 468h23M746 468h12M759 468h20M780 468h4M666 469h1M668 469h15M684 469h2M687 469h8M698 469h5M704 469h2M707 469h18M727 469h11M739 469h20M760 469h8M769 469h13M783 469h1M786 469h1M651 470h1M656 470h2M663 470h1M665 470h1M667 470h14M682 470h5M688 470h52M741 470h11M753 470h2M756 470h3M760 470h19M780 470h2M785 470h1M661 471h1M663 471h2M666 471h10M677 471h7M686 471h19M706 471h17M724 471h14M739 471h40M780 471h1M784 471h1M659 472h1M662 472h1M664 472h5M670 472h14M685 472h1M687 472h8M696 472h3M700 472h1M702 472h42M745 472h5M751 472h25M777 472h2M781 472h1M661 473h28M690 473h4M695 473h2M698 473h22M721 473h52M774 473h1M776 473h1M779 473h1M781 473h1M783 473h1M786 473h1M655 474h1M658 474h1M661 474h2M664 474h17M682 474h37M720 474h38M759 474h9M769 474h1M771 474h2M655 475h1M657 475h1M659 475h10M671 475h1M673 475h9M683 475h5M689 475h6M696 475h28M725 475h6M732 475h17M750 475h17M769 475h3M777 475h1M651 476h1M654 476h1M656 476h6M663 476h26M690 476h3M694 476h1M696 476h14M711 476h30M742 476h1M744 476h3M749 476h11M761 476h1M763 476h4M770 476h1M778 476h1M785 476h1M654 477h1M656 477h8M665 477h8M674 477h10M685 477h38M724 477h27M758 477h1M760 477h1M763 477h1M766 477h2M656 478h24M681 478h54M736 478h9M746 478h2M753 478h1M760 478h1M762 478h2M768 478h1M774 478h1M651 479h1M655 479h4M660 479h22M683 479h31M715 479h19M735 479h3M739 479h1M742 479h1M751 479h2M759 479h1M778 479h2M650 480h1M656 480h24M681 480h13M695 480h38M734 480h1M736 480h1M741 480h1M744 480h2M755 480h2M766 480h1M771 480h1M775 480h1M647 481h1M652 481h1M655 481h19M675 481h3M679 481h1M681 481h4M686 481h15M704 481h2M708 481h1M711 481h3M715 481h1M718 481h1M720 481h3M724 481h3M728 481h2M732 481h1M735 481h1M739 481h2M745 481h2M757 481h1M766 481h1M782 481h1M655 482h23M679 482h1M684 482h2M687 482h1M691 482h2M694 482h1M696 482h1M700 482h2M704 482h1M708 482h1M712 482h1M714 482h1M716 482h2M720 482h2M730 482h2M735 482h1M749 482h2M753 482h1M759 482h1M782 482h1M652 483h1M657 483h2M661 483h18M682 483h3M686 483h1M689 483h1M694 483h1M698 483h2M702 483h1M705 483h1M715 483h1M719 483h1M722 483h1M728 483h1M735 483h1M748 483h1M751 483h1M766 483h1M655 484h4M662 484h5M669 484h1M671 484h1M673 484h3M681 484h1M687 484h1M690 484h1M699 484h1M709 484h1M715 484h1M730 484h1M733 484h2M739 484h1M743 484h1M772 484h1M654 485h1M656 485h1M660 485h1M664 485h1M668 485h1M675 485h1M684 485h1M698 485h1M702 485h1M710 485h1M725 485h1M738 485h1M655 486h1M661 486h1M664 486h1M666 486h3M670 486h1M672 486h1M678 486h1M680 486h1M684 486h1M686 486h1M689 486h1M693 486h1M705 486h1M726 486h1M734 486h1M742 486h3M751 486h1M767 486h1M663 487h1M665 487h1M672 487h1M679 487h1M688 487h1M692 487h1M696 487h1M712 487h1M743 487h1M751 487h1M685 488h1M726 488h1M731 488h1M676 489h1M692 489h1M721 489h1M782 489h1M661 490h1M668 490h1M680 490h1M743 490h1M679 491h2M732 491h1M654 492h1M662 492h1M679 492h1M701 492h1M740 492h1M668 493h1M738 493h1M742 493h1M745 493h1M758 493h1M761 493h1M678 494h1M690 494h1M743 494h1M659 495h1M675 495h1M689 495h1M754 495h1M688 496h1M706 496h1M714 496h1M670 497h1M689 497h1M704 497h1M739 497h1M756 497h1M748 498h1M694 499h1M708 499h1M762 499h1M768 499h1M631 500h1M685 500h1M692 500h1M710 500h1M679 501h1M708 501h1M717 501h1M733 501h1M741 501h1M655 502h1M688 502h1M758 502h1M697 503h1M722 503h1M724 504h1M729 504h1M743 504h1M748 504h1M651 506h1M727 507h1M711 508h1M725 508h1M729 508h1M753 508h1M702 509h1M711 509h1M782 509h1M708 511h1M745 511h1M699 514h1M707 514h1M726 514h1M682 515h1M733 515h1M631 516h1M695 516h1M743 516h1" stroke="#000" stroke-width="1" transform="translate(0,0.5)" shape-rendering="crispEdges"/>
<path d="M600.7 395.3H822.6V617.3" fill="none" stroke="#a8a8a8" stroke-width="1.8"/>
<path d="M600.7 395.3V617.3H822.6" fill="none" stroke="#2a2a2a" stroke-width="2.0"/>
<path d="M596.7 414.8h4M596.7 463.4h4M596.7 516.2h4M596.7 569.7h4M601.7 617.3v4M622.5 617.3v4M647.3 617.3v4M701.0 617.3v4M752.1 617.3v4M801.8 617.3v4" stroke="#333" stroke-width="1.3" fill="none"/>
<path d="M598.2 430.6h2.5M598.2 439.8h2.5M598.2 446.4h2.5M598.2 451.5h2.5M598.2 455.7h2.5M598.2 459.2h2.5M598.2 462.2h2.5M598.2 464.9h2.5M598.2 479.2h2.5M598.2 488.4h2.5M598.2 495.0h2.5M598.2 500.1h2.5M598.2 504.3h2.5M598.2 507.8h2.5M598.2 510.8h2.5M598.2 513.5h2.5M598.2 532.0h2.5M598.2 541.2h2.5M598.2 547.8h2.5M598.2 552.9h2.5M598.2 557.1h2.5M598.2 560.6h2.5M598.2 563.6h2.5M598.2 566.3h2.5M598.2 585.5h2.5M598.2 581.3h2.5M598.2 594.0h2.5M598.2 604.3h2.5M598.2 615.6h2.5M716.2 617.3v2.5M725.0 617.3v2.5M731.3 617.3v2.5M736.2 617.3v2.5M740.2 617.3v2.5M743.6 617.3v2.5M746.5 617.3v2.5M749.1 617.3v2.5M767.3 617.3v2.5M776.1 617.3v2.5M782.4 617.3v2.5M787.3 617.3v2.5M791.3 617.3v2.5M794.7 617.3v2.5M797.6 617.3v2.5M800.2 617.3v2.5M612.1 617.3v2.5M636.1 617.3v2.5M661.7 617.3v2.5M672.2 617.3v2.5M685.0 617.3v2.5M697.0 617.3v2.5" stroke="#3a3a3a" stroke-width="1.1" fill="none"/>
<rect x="592.2" y="413.3" width="3.5" height="3" fill="#bbb"/><rect x="592.2" y="461.9" width="3.5" height="3" fill="#bbb"/><rect x="592.2" y="514.7" width="3.5" height="3" fill="#bbb"/><rect x="592.2" y="568.2" width="3.5" height="3" fill="#bbb"/><rect x="595.2" y="591.9" width="4.5" height="3.5" fill="#222"/><rect x="621.0" y="620.3" width="3" height="3.2" fill="#333"/><rect x="600.2" y="621.8" width="3" height="2.5" fill="#c4c4c4"/><rect x="645.8" y="621.8" width="3" height="2.5" fill="#c4c4c4"/><rect x="699.5" y="621.8" width="3" height="2.5" fill="#c4c4c4"/><rect x="750.6" y="621.8" width="3" height="2.5" fill="#c4c4c4"/><rect x="800.3" y="621.8" width="3" height="2.5" fill="#c4c4c4"/>
<rect x="709.8" y="434.4" width="111.2" height="83.4" rx="1.5" fill="none" stroke="#6a6a6a" stroke-width="2.0"/>
<path d="M987 441h1M984 444h1M990 444h1M998 444h1M1002 444h1M978 446h1M991 446h1M973 447h1M991 447h1M1003 447h1M980 448h1M878 449h1M913 449h1M935 449h1M973 449h1M981 449h1M991 449h1M974 450h1M976 450h1M984 450h1M990 450h1M994 450h1M946 451h1M967 451h1M975 451h1M994 451h2M1002 451h1M965 452h1M970 452h1M982 452h1M985 452h2M992 452h2M998 452h1M1000 452h1M1003 452h1M957 453h1M964 453h1M967 453h1M970 453h1M973 453h1M981 453h1M984 453h3M988 453h1M990 453h1M993 453h4M999 453h2M1003 453h1M1013 453h1M967 454h2M970 454h2M974 454h1M977 454h3M981 454h2M985 454h11M998 454h2M1001 454h1M1008 454h2M1012 454h1M931 455h1M933 455h1M956 455h1M962 455h2M973 455h1M975 455h2M978 455h3M982 455h6M989 455h13M1003 455h2M1008 455h1M1019 455h1M948 456h1M957 456h1M962 456h2M965 456h3M969 456h19M990 456h3M994 456h13M864 457h1M938 457h2M942 457h1M953 457h1M956 457h3M964 457h8M973 457h33M931 458h1M933 458h1M940 458h2M945 458h1M949 458h2M960 458h14M975 458h33M1010 458h4M918 459h1M921 459h1M929 459h1M937 459h1M942 459h1M947 459h2M950 459h2M956 459h1M958 459h48M1007 459h4M1012 459h1M921 460h1M929 460h1M934 460h1M943 460h1M945 460h1M947 460h2M950 460h1M953 460h7M961 460h15M977 460h23M1001 460h11M1015 460h1M1020 460h1M924 461h1M942 461h1M944 461h2M948 461h1M950 461h19M970 461h11M982 461h32M1017 461h1M883 462h1M921 462h1M923 462h1M925 462h1M930 462h2M935 462h1M938 462h1M941 462h3M947 462h14M962 462h9M972 462h37M1010 462h2M1013 462h2M1016 462h1M911 463h1M922 463h1M925 463h1M927 463h1M929 463h2M933 463h1M936 463h1M942 463h2M945 463h42M988 463h5M994 463h19M1018 463h1M914 464h1M926 464h5M934 464h3M940 464h10M951 464h57M1009 464h6M1016 464h1M1018 464h1M920 465h1M922 465h1M924 465h1M926 465h1M930 465h1M932 465h2M940 465h61M1002 465h3M1006 465h9M1017 465h1M903 466h1M906 466h1M913 466h1M916 466h1M922 466h1M925 466h1M931 466h1M934 466h3M938 466h23M962 466h47M1010 466h5M1018 466h1M913 467h2M919 467h1M925 467h1M927 467h1M929 467h1M932 467h5M939 467h16M956 467h14M971 467h19M991 467h12M1004 467h2M1007 467h10M905 468h1M907 468h1M912 468h1M921 468h2M927 468h10M938 468h2M941 468h39M981 468h35M1018 468h1M894 469h1M898 469h1M900 469h1M907 469h1M912 469h1M916 469h1M919 469h2M924 469h2M927 469h2M931 469h2M934 469h6M941 469h11M953 469h34M988 469h14M1003 469h14M1021 469h1M1025 469h1M900 470h1M906 470h6M913 470h4M919 470h1M923 470h6M936 470h2M940 470h6M947 470h19M967 470h34M1002 470h4M1007 470h10M1023 470h1M892 471h1M896 471h2M905 471h2M910 471h3M916 471h2M919 471h1M922 471h4M927 471h3M931 471h1M933 471h2M936 471h1M938 471h22M961 471h18M980 471h2M983 471h3M987 471h29M1017 471h3M896 472h1M900 472h1M905 472h1M907 472h1M909 472h2M912 472h2M915 472h2M920 472h2M923 472h8M932 472h1M935 472h1M937 472h2M941 472h1M943 472h17M961 472h29M991 472h8M1000 472h12M1013 472h3M1017 472h1M896 473h1M899 473h2M905 473h4M910 473h1M913 473h2M916 473h2M919 473h3M925 473h1M928 473h5M939 473h20M960 473h27M989 473h5M995 473h3M999 473h2M1002 473h5M1008 473h7M1016 473h1M899 474h1M901 474h1M908 474h1M910 474h9M920 474h2M924 474h4M932 474h2M936 474h2M939 474h17M957 474h5M963 474h7M971 474h8M980 474h35M888 475h1M890 475h2M893 475h2M899 475h1M902 475h1M906 475h1M915 475h2M920 475h2M923 475h3M927 475h2M930 475h4M936 475h15M952 475h4M957 475h37M995 475h8M1004 475h11M888 476h1M891 476h1M894 476h3M901 476h2M904 476h1M908 476h1M910 476h4M915 476h4M920 476h1M923 476h3M927 476h2M930 476h1M933 476h1M935 476h54M990 476h24M1015 476h1M889 477h1M891 477h1M893 477h2M901 477h3M908 477h1M911 477h3M915 477h4M920 477h1M923 477h1M925 477h2M928 477h1M930 477h1M935 477h12M948 477h60M1009 477h4M887 478h1M891 478h1M894 478h3M901 478h2M907 478h2M915 478h2M920 478h3M924 478h4M929 478h4M934 478h14M949 478h2M952 478h9M962 478h14M977 478h3M981 478h33M889 479h6M900 479h1M904 479h1M906 479h2M909 479h1M911 479h3M915 479h2M918 479h1M920 479h1M924 479h4M930 479h2M933 479h1M935 479h1M937 479h33M971 479h37M1009 479h1M1011 479h2M1014 479h1M1016 479h1M886 480h1M888 480h1M890 480h1M894 480h2M900 480h1M902 480h3M909 480h1M913 480h1M915 480h2M918 480h1M922 480h1M924 480h1M926 480h3M930 480h2M933 480h1M936 480h1M939 480h10M950 480h23M974 480h27M1002 480h2M1005 480h5M1012 480h2M888 481h2M891 481h1M896 481h1M898 481h1M900 481h2M903 481h1M907 481h1M909 481h5M915 481h3M920 481h2M924 481h3M929 481h2M934 481h1M936 481h3M940 481h22M963 481h43M1007 481h3M1011 481h1M890 482h1M892 482h1M895 482h3M900 482h1M902 482h1M906 482h2M911 482h1M913 482h1M917 482h1M919 482h3M923 482h3M927 482h1M929 482h2M932 482h1M934 482h2M938 482h2M941 482h13M955 482h46M1002 482h4M1009 482h1M1021 482h1M890 483h1M898 483h5M907 483h1M912 483h1M916 483h1M918 483h1M920 483h1M922 483h6M930 483h1M932 483h1M935 483h1M937 483h1M939 483h22M962 483h9M972 483h4M977 483h7M985 483h20M1006 483h3M894 484h1M896 484h1M909 484h1M912 484h5M919 484h1M921 484h1M923 484h2M929 484h1M931 484h1M934 484h2M937 484h1M939 484h8M948 484h15M964 484h10M975 484h9M985 484h9M995 484h11M1007 484h2M887 485h1M893 485h2M896 485h1M899 485h1M914 485h2M918 485h1M920 485h2M926 485h2M930 485h2M933 485h1M937 485h1M940 485h5M947 485h27M975 485h19M995 485h10M1008 485h1M886 486h1M892 486h1M906 486h1M908 486h1M914 486h3M918 486h1M923 486h5M929 486h1M932 486h1M935 486h1M938 486h13M952 486h5M958 486h31M990 486h10M1013 486h2M894 487h1M907 487h1M912 487h2M915 487h1M919 487h1M923 487h1M926 487h1M928 487h1M930 487h2M933 487h1M935 487h1M937 487h1M941 487h45M987 487h13M1006 487h1M891 488h1M907 488h1M910 488h1M912 488h1M916 488h1M919 488h1M926 488h2M929 488h1M932 488h2M936 488h1M939 488h1M941 488h8M950 488h15M967 488h14M982 488h11M994 488h2M1002 488h1M889 489h1M913 489h1M931 489h3M936 489h2M940 489h5M946 489h5M952 489h3M957 489h28M988 489h5M998 489h1M1004 489h1M912 490h1M914 490h1M918 490h1M926 490h1M930 490h1M932 490h1M938 490h2M944 490h1M949 490h1M952 490h1M954 490h3M958 490h2M961 490h1M963 490h1M965 490h5M975 490h1M979 490h1M981 490h3M985 490h1M988 490h2M993 490h1M997 490h2M915 491h1M925 491h1M931 491h1M939 491h1M954 491h3M959 491h2M962 491h1M964 491h1M966 491h1M969 491h1M973 491h1M975 491h1M979 491h1M982 491h1M985 491h1M991 491h2M1001 491h1M902 492h1M918 492h1M924 492h1M929 492h1M937 492h1M941 492h3M947 492h1M951 492h1M956 492h1M963 492h1M971 492h1M982 492h1M933 493h1M938 493h1M943 493h3M956 493h2M962 493h1M975 493h1M983 493h1M996 493h1M928 494h1M930 494h1M936 494h2M946 494h1M949 494h1M952 494h1M958 494h1M972 494h2M984 494h1M986 494h1M930 495h1M981 495h1M995 495h1M1003 495h1M942 496h1M959 496h1M995 496h1M999 496h1M939 497h1M956 498h1M981 499h1M954 500h1M977 502h1M957 503h1" stroke="#000" stroke-width="1" transform="translate(0,0.5)" shape-rendering="crispEdges"/>
<path d="M829.2 395.3H1051.3V617.3" fill="none" stroke="#a8a8a8" stroke-width="1.8"/>
<path d="M829.2 395.3V617.3H1051.3" fill="none" stroke="#2a2a2a" stroke-width="2.0"/>
<path d="M825.2 414.8h4M825.2 463.4h4M825.2 516.2h4M825.2 569.7h4M830.2 617.3v4M851.0 617.3v4M875.8 617.3v4M929.5 617.3v4M980.6 617.3v4M1030.3 617.3v4" stroke="#333" stroke-width="1.3" fill="none"/>
<path d="M826.7 430.6h2.5M826.7 439.8h2.5M826.7 446.4h2.5M826.7 451.5h2.5M826.7 455.7h2.5M826.7 459.2h2.5M826.7 462.2h2.5M826.7 464.9h2.5M826.7 479.2h2.5M826.7 488.4h2.5M826.7 495.0h2.5M826.7 500.1h2.5M826.7 504.3h2.5M826.7 507.8h2.5M826.7 510.8h2.5M826.7 513.5h2.5M826.7 532.0h2.5M826.7 541.2h2.5M826.7 547.8h2.5M826.7 552.9h2.5M826.7 557.1h2.5M826.7 560.6h2.5M826.7 563.6h2.5M826.7 566.3h2.5M826.7 585.5h2.5M826.7 581.3h2.5M826.7 594.0h2.5M826.7 604.3h2.5M826.7 615.6h2.5M944.7 617.3v2.5M953.5 617.3v2.5M959.8 617.3v2.5M964.7 617.3v2.5M968.7 617.3v2.5M972.1 617.3v2.5M975.0 617.3v2.5M977.6 617.3v2.5M995.8 617.3v2.5M1004.6 617.3v2.5M1010.9 617.3v2.5M1015.8 617.3v2.5M1019.8 617.3v2.5M1023.2 617.3v2.5M1026.1 617.3v2.5M1028.7 617.3v2.5M840.6 617.3v2.5M864.6 617.3v2.5M890.2 617.3v2.5M900.7 617.3v2.5M913.5 617.3v2.5M925.5 617.3v2.5" stroke="#3a3a3a" stroke-width="1.1" fill="none"/>
<rect x="820.7" y="413.3" width="3.5" height="3" fill="#bbb"/><rect x="820.7" y="461.9" width="3.5" height="3" fill="#bbb"/><rect x="820.7" y="514.7" width="3.5" height="3" fill="#bbb"/><rect x="820.7" y="568.2" width="3.5" height="3" fill="#bbb"/><rect x="823.7" y="591.9" width="4.5" height="3.5" fill="#222"/><rect x="849.5" y="620.3" width="3" height="3.2" fill="#333"/><rect x="828.7" y="621.8" width="3" height="2.5" fill="#c4c4c4"/><rect x="874.3" y="621.8" width="3" height="2.5" fill="#c4c4c4"/><rect x="928.0" y="621.8" width="3" height="2.5" fill="#c4c4c4"/><rect x="979.1" y="621.8" width="3" height="2.5" fill="#c4c4c4"/><rect x="1028.8" y="621.8" width="3" height="2.5" fill="#c4c4c4"/>
<rect x="938.3" y="433.9" width="111.9" height="83.9" rx="1.5" fill="none" stroke="#6a6a6a" stroke-width="2.0"/>
<text transform="translate(578.80,275.06) rotate(-90) scale(0.9660,1)" font-size="33.16">IL-<tspan class="o">1</tspan>7</text>
<text transform="translate(582.06,533.79) rotate(-90) scale(0.9307,1)" font-size="34.20">CD4</text>
<text transform="translate(788.98,378.20) scale(1.0121,1)" font-size="32.29">IFN</text>
<g transform="translate(840.9,378.2) rotate(0) scale(1.0)" fill="none" stroke="#000" stroke-linecap="round"><path d="M12.4 -14.6L5.6 5.2" stroke-width="2.7"/><path d="M0.4 -12.3C0.9 -14.6 2.6 -15.4 3.7 -13.4L6.9 -2.6" stroke-width="1.6"/></g>
<text transform="translate(776.16,655.00) scale(0.9902,1)" font-size="32.29">FOXP3</text>
<text transform="translate(675.04,332.50) scale(0.9447,1)" font-size="30.82">2<tspan class="o">1</tspan>.3 ± 2.8</text>
<text transform="translate(925.54,331.00) scale(0.9504,1)" font-size="30.82">6.5 ± <tspan class="o">1</tspan>.3</text>
<text transform="translate(666.35,549.80) scale(0.9628,1)" font-size="30.11">67.4 ± 8.2</text>
<text transform="translate(888.26,551.50) scale(0.9447,1)" font-size="30.82">88.7 ± 3.2</text>
<line x1="1150.1" y1="56.5" x2="1150.1" y2="320.9" stroke="#000" stroke-width="2.9" stroke-linecap="butt"/>
<line x1="1139.2" y1="319.5" x2="1323.8" y2="319.5" stroke="#000" stroke-width="2.9" stroke-linecap="butt"/>
<line x1="1139.2" y1="232.2" x2="1150.1" y2="232.2" stroke="#000" stroke-width="2.0" stroke-linecap="butt"/>
<line x1="1139.2" y1="144.8" x2="1150.1" y2="144.8" stroke="#000" stroke-width="2.0" stroke-linecap="butt"/>
<line x1="1139.2" y1="57.5" x2="1150.1" y2="57.5" stroke="#000" stroke-width="2.0" stroke-linecap="butt"/>
<text transform="translate(1125.41,326.40) scale(1.0006,1)" font-size="22.97">0</text>
<text transform="translate(1112.65,239.07) scale(1.0006,1)" font-size="22.97"><tspan class="o">1</tspan>0</text>
<text transform="translate(1112.65,151.74) scale(1.0006,1)" font-size="22.97">20</text>
<text transform="translate(1112.65,64.41) scale(1.0006,1)" font-size="22.97">30</text>
<path d="M1176.7 319.5V131.1H1222.6V319.5" fill="#fff" stroke="#000" stroke-width="3.8" stroke-linejoin="miter"/>
<line x1="1199.8" y1="107.5" x2="1199.8" y2="154.8" stroke="#000" stroke-width="2.2" stroke-linecap="butt"/>
<line x1="1186.8" y1="154.8" x2="1212.8" y2="154.8" stroke="#000" stroke-width="2.3" stroke-linecap="round"/>
<line x1="1186.8" y1="107.5" x2="1212.8" y2="107.5" stroke="#000" stroke-width="2.3" stroke-linecap="round"/>
<circle cx="1182.4" cy="110.1" r="7.80" fill="#000"/>
<circle cx="1199.4" cy="111.1" r="7.80" fill="#000"/>
<circle cx="1216.5" cy="111.1" r="7.80" fill="#000"/>
<circle cx="1190.9" cy="132.4" r="7.80" fill="#000"/>
<circle cx="1207.9" cy="140.5" r="7.80" fill="#000"/>
<circle cx="1199.4" cy="172.9" r="7.80" fill="#000"/>
<path d="M1251.6 319.5V264.8H1297.8V319.5" fill="#fff" stroke="#000" stroke-width="3.8" stroke-linejoin="miter"/>
<line x1="1274.7" y1="251.0" x2="1274.7" y2="275.3" stroke="#000" stroke-width="2.2" stroke-linecap="butt"/>
<line x1="1262.5" y1="275.3" x2="1287.0" y2="275.3" stroke="#000" stroke-width="2.3" stroke-linecap="round"/>
<line x1="1262.5" y1="251.0" x2="1287.0" y2="251.0" stroke="#000" stroke-width="2.3" stroke-linecap="round"/>
<circle cx="1257.9" cy="250.3" r="7.20" fill="#ff2a00" stroke="#000" stroke-width="2.8"/>
<circle cx="1274.7" cy="248.9" r="7.20" fill="#ff2a00" stroke="#000" stroke-width="2.8"/>
<circle cx="1291.8" cy="259.9" r="7.20" fill="#ff2a00" stroke="#000" stroke-width="2.8"/>
<circle cx="1274.7" cy="265.3" r="7.20" fill="#ff2a00" stroke="#000" stroke-width="2.8"/>
<circle cx="1257.9" cy="276.3" r="7.20" fill="#ff2a00" stroke="#000" stroke-width="2.8"/>
<circle cx="1291.8" cy="276.3" r="7.20" fill="#ff2a00" stroke="#000" stroke-width="2.8"/>
<line x1="1139.2" y1="319.5" x2="1323.8" y2="319.5" stroke="#000" stroke-width="2.9" stroke-linecap="butt"/>
<path d="M1199.4 95.2V86.1H1276.2V95.2" fill="none" stroke="#000" stroke-width="3.2"/>
<path d="M1222.20 60.85L1222.20 72.55M1216.94 63.41L1227.46 69.99M1216.94 69.99L1227.46 63.41" stroke="#000" stroke-width="3.9" stroke-linecap="round" fill="none"/>
<path d="M1238.00 60.85L1238.00 72.55M1232.74 63.41L1243.26 69.99M1232.74 69.99L1243.26 63.41" stroke="#000" stroke-width="3.9" stroke-linecap="round" fill="none"/>
<path d="M1254.00 60.85L1254.00 72.55M1248.74 63.41L1259.26 69.99M1248.74 69.99L1259.26 63.41" stroke="#000" stroke-width="3.9" stroke-linecap="round" fill="none"/>
<text transform="translate(1099.80,246.88) rotate(-90) scale(0.9258,1)" font-size="30.11">IFN</text>
<g transform="translate(1099.8,203.0) rotate(-90) scale(0.9)" fill="none" stroke="#000" stroke-linecap="round"><path d="M12.4 -14.6L5.6 5.2" stroke-width="2.7"/><path d="M0.4 -12.3C0.9 -14.6 2.6 -15.4 3.7 -13.4L6.9 -2.6" stroke-width="1.6"/></g>
<text transform="translate(1089.36,189.60) rotate(-90) scale(0.9828,1)" font-size="22.45">+</text>
<text transform="translate(1100.56,169.78) rotate(-90) scale(0.9312,1)" font-size="30.56">(%)</text>
<circle cx="1324.0" cy="86.0" r="8.00" fill="#000"/>
<text transform="translate(1353.36,93.90) scale(1.0725,1)" font-size="19.67">Media</text>
<circle cx="1324.0" cy="122.6" r="7.60" fill="#ff2a00" stroke="#000" stroke-width="3.0"/>
<text transform="translate(1353.26,129.9) scale(1.0725,1)" font-size="19.67">MSC co-culture</text>
<line x1="1152.0" y1="377.6" x2="1152.0" y2="639.6" stroke="#000" stroke-width="2.9" stroke-linecap="butt"/>
<line x1="1141.0" y1="638.2" x2="1323.5" y2="638.2" stroke="#000" stroke-width="2.9" stroke-linecap="butt"/>
<line x1="1141.0" y1="586.3" x2="1152.0" y2="586.3" stroke="#000" stroke-width="2.0" stroke-linecap="butt"/>
<line x1="1141.0" y1="534.4" x2="1152.0" y2="534.4" stroke="#000" stroke-width="2.0" stroke-linecap="butt"/>
<line x1="1141.0" y1="482.5" x2="1152.0" y2="482.5" stroke="#000" stroke-width="2.0" stroke-linecap="butt"/>
<line x1="1141.0" y1="430.6" x2="1152.0" y2="430.6" stroke="#000" stroke-width="2.0" stroke-linecap="butt"/>
<line x1="1141.0" y1="378.6" x2="1152.0" y2="378.6" stroke="#000" stroke-width="2.0" stroke-linecap="butt"/>
<text transform="translate(1128.04,645.17) scale(0.9444,1)" font-size="23.04">0</text>
<text transform="translate(1115.96,593.25) scale(0.9444,1)" font-size="23.04">20</text>
<text transform="translate(1115.96,541.33) scale(0.9444,1)" font-size="23.04">40</text>
<text transform="translate(1115.96,489.41) scale(0.9444,1)" font-size="23.04">60</text>
<text transform="translate(1115.96,437.49) scale(0.9444,1)" font-size="23.04">80</text>
<text transform="translate(1103.83,385.57) scale(0.9444,1)" font-size="23.04"><tspan class="o">1</tspan>00</text>
<path d="M1178.4 638.2V464.3H1223.7V638.2" fill="#fff" stroke="#000" stroke-width="3.8" stroke-linejoin="miter"/>
<line x1="1201.0" y1="441.6" x2="1201.0" y2="485.0" stroke="#000" stroke-width="2.2" stroke-linecap="butt"/>
<line x1="1188.5" y1="441.6" x2="1213.7" y2="441.6" stroke="#000" stroke-width="2.3" stroke-linecap="round"/>
<line x1="1188.5" y1="485.0" x2="1213.7" y2="485.0" stroke="#000" stroke-width="2.3" stroke-linecap="round"/>
<circle cx="1201.1" cy="429.7" r="7.80" fill="#000"/>
<circle cx="1184.0" cy="454.5" r="7.80" fill="#000"/>
<circle cx="1218.2" cy="461.8" r="7.80" fill="#000"/>
<circle cx="1196.2" cy="467.9" r="7.80" fill="#000"/>
<circle cx="1206.0" cy="469.1" r="7.80" fill="#000"/>
<circle cx="1201.1" cy="496.0" r="7.80" fill="#000"/>
<path d="M1252.8 638.2V409.4H1297.5V638.2" fill="#fff" stroke="#000" stroke-width="3.8" stroke-linejoin="miter"/>
<circle cx="1257.4" cy="405.2" r="7.20" fill="#ff2a00" stroke="#000" stroke-width="2.8"/>
<circle cx="1292.9" cy="404.8" r="7.20" fill="#ff2a00" stroke="#000" stroke-width="2.8"/>
<circle cx="1280.8" cy="401.5" r="7.20" fill="#ff2a00" stroke="#000" stroke-width="2.8"/>
<circle cx="1269.1" cy="399.7" r="7.20" fill="#ff2a00" stroke="#000" stroke-width="2.8"/>
<circle cx="1269.1" cy="423.1" r="7.20" fill="#ff2a00" stroke="#000" stroke-width="2.8"/>
<circle cx="1280.8" cy="416.9" r="7.20" fill="#ff2a00" stroke="#000" stroke-width="2.8"/>
<line x1="1141.0" y1="638.2" x2="1323.5" y2="638.2" stroke="#000" stroke-width="2.9" stroke-linecap="butt"/>
<path d="M1199.4 387.5V378.6H1277.1V387.5" fill="none" stroke="#000" stroke-width="3.2"/>
<path d="M1231.50 355.55L1231.50 367.25M1226.24 358.11L1236.76 364.69M1226.24 364.69L1236.76 358.11" stroke="#000" stroke-width="3.9" stroke-linecap="round" fill="none"/>
<path d="M1246.50 355.55L1246.50 367.25M1241.24 358.11L1251.76 364.69M1241.24 364.69L1251.76 358.11" stroke="#000" stroke-width="3.9" stroke-linecap="round" fill="none"/>
<text transform="translate(1090.15,587.83) rotate(-90) scale(0.9654,1)" font-size="33.03">FOXP3 (%)</text>
<path transform="matrix(1.08730,0.00000,0.00000,1.00000,41.760,139.690) translate(0.000,0.000) scale(0.012490,-0.012490)" d="M515 0L515 1237L197 1010L197 1180L530 1409L696 1409L696 0Z" fill="#000" stroke="#000" stroke-width="36.0"/>
<path transform="matrix(1.01650,0.00000,0.00000,1.00000,122.120,500.600) translate(0.000,0.000) scale(0.013564,-0.013564)" d="M515 0L515 1237L197 1010L197 1180L530 1409L696 1409L696 0Z" fill="#000" stroke="#000" stroke-width="33.2"/>
<path transform="matrix(1.01650,0.00000,0.00000,1.00000,122.120,500.600) translate(23.167,0.000) scale(0.013564,-0.013564)" d="M515 0L515 1237L197 1010L197 1180L530 1409L696 1409L696 0Z" fill="#000" stroke="#000" stroke-width="33.2"/>
<path transform="matrix(1.03080,0.00000,0.00000,1.00000,193.160,500.330) translate(0.000,0.000) scale(0.013184,-0.013184)" d="M515 0L515 1237L197 1010L197 1180L530 1409L696 1409L696 0Z" fill="#000" stroke="#000" stroke-width="34.1"/>
<path transform="matrix(1.03080,0.00000,0.00000,1.00000,193.160,500.330) translate(37.527,0.000) scale(0.013184,-0.013184)" d="M515 0L515 1237L197 1010L197 1180L530 1409L696 1409L696 0Z" fill="#000" stroke="#000" stroke-width="34.1"/>
<path transform="matrix(1.05650,0.00000,0.00000,1.00000,276.760,500.330) translate(37.534,0.000) scale(0.013184,-0.013184)" d="M515 0L515 1237L197 1010L197 1180L530 1409L696 1409L696 0Z" fill="#000" stroke="#000" stroke-width="34.1"/>
<path transform="matrix(0.98800,0.00000,0.00000,1.00000,374.430,500.030) translate(0.000,0.000) scale(0.013389,-0.013389)" d="M515 0L515 1237L197 1010L197 1180L530 1409L696 1409L696 0Z" fill="#000" stroke="#000" stroke-width="33.6"/>
<path transform="matrix(0.98800,0.00000,0.00000,1.00000,374.430,500.030) translate(53.366,0.000) scale(0.013389,-0.013389)" d="M515 0L515 1237L197 1010L197 1180L530 1409L696 1409L696 0Z" fill="#000" stroke="#000" stroke-width="33.6"/>
<path transform="matrix(1.10720,0.00000,0.00000,1.00000,780.800,41.000) translate(71.315,0.000) scale(0.013335,-0.013335)" d="M515 0L515 1237L197 1010L197 1180L530 1409L696 1409L696 0Z" fill="#000" stroke="#000" stroke-width="33.7"/>
<path transform="matrix(0.00000,-0.96600,1.00000,0.00000,578.800,275.060) translate(38.699,0.000) scale(0.016191,-0.016191)" d="M515 0L515 1237L197 1010L197 1180L530 1409L696 1409L696 0Z" fill="#000" stroke="#000" stroke-width="27.8"/>
<path transform="matrix(0.94470,0.00000,0.00000,1.00000,675.040,332.500) translate(17.139,0.000) scale(0.015049,-0.015049)" d="M515 0L515 1237L197 1010L197 1180L530 1409L696 1409L696 0Z" fill="#000" stroke="#000" stroke-width="29.9"/>
<path transform="matrix(0.95040,0.00000,0.00000,1.00000,925.540,331.000) translate(76.850,0.000) scale(0.015049,-0.015049)" d="M515 0L515 1237L197 1010L197 1180L530 1409L696 1409L696 0Z" fill="#000" stroke="#000" stroke-width="29.9"/>
<path transform="matrix(1.00060,0.00000,0.00000,1.00000,1112.650,239.070) translate(0.000,0.000) scale(0.011216,-0.011216)" d="M515 0L515 1237L197 1010L197 1180L530 1409L696 1409L696 0Z" fill="#000" stroke="#000" stroke-width="40.1"/>
<path transform="matrix(0.94440,0.00000,0.00000,1.00000,1103.830,385.570) translate(0.000,0.000) scale(0.011250,-0.011250)" d="M515 0L515 1237L197 1010L197 1180L530 1409L696 1409L696 0Z" fill="#000" stroke="#000" stroke-width="40.0"/>
</g>
</svg>
</body></html>
